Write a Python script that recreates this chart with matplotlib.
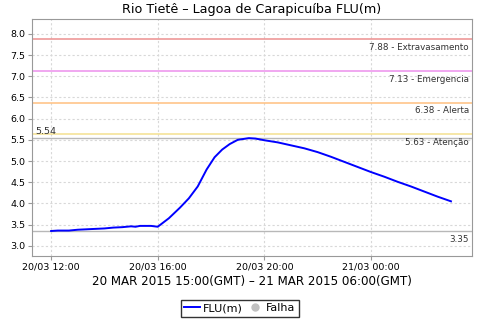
import numpy as np
import pandas as pd
import matplotlib
matplotlib.use('Agg')
import matplotlib.pyplot as plt
import matplotlib.dates as mdates
from matplotlib.lines import Line2D

# readings (local time)
times = ['2015-03-20 12:00', '2015-03-20 12:15', '2015-03-20 12:40', '2015-03-20 13:00',
         '2015-03-20 13:20', '2015-03-20 13:40', '2015-03-20 14:00', '2015-03-20 14:20',
         '2015-03-20 14:40', '2015-03-20 15:00', '2015-03-20 15:10', '2015-03-20 15:20',
         '2015-03-20 15:45', '2015-03-20 16:00', '2015-03-20 16:25', '2015-03-20 16:50',
         '2015-03-20 17:10', '2015-03-20 17:30', '2015-03-20 17:50', '2015-03-20 18:08',
         '2015-03-20 18:25', '2015-03-20 18:42', '2015-03-20 19:00', '2015-03-20 19:25',
         '2015-03-20 19:40', '2015-03-20 20:00', '2015-03-20 20:30', '2015-03-20 21:00',
         '2015-03-20 21:30', '2015-03-20 22:00', '2015-03-20 22:30', '2015-03-20 23:00',
         '2015-03-20 23:30', '2015-03-21 00:00', '2015-03-21 00:30', '2015-03-21 01:00',
         '2015-03-21 01:30', '2015-03-21 02:00', '2015-03-21 02:30', '2015-03-21 03:00']
flu = [3.35, 3.36, 3.36, 3.38, 3.39, 3.40, 3.41, 3.43, 3.44, 3.46, 3.45, 3.47,
       3.47, 3.45, 3.65, 3.90, 4.12, 4.40, 4.80, 5.09, 5.27, 5.40, 5.50, 5.54,
       5.53, 5.49, 5.44, 5.37, 5.30, 5.21, 5.10, 4.98, 4.86, 4.74, 4.63, 4.51,
       4.40, 4.28, 4.16, 4.05]

limit_values = [7.88, 7.13, 6.38, 5.63]
limit_names = ['Extravasamento', 'Emergencia', 'Alerta', 'Atenção']
limit_colors = ['#ec9090', '#ec90ec', '#ffc080', '#f4e090']

max_val = 5.54
min_val = 3.35

t = pd.to_datetime(times)

fig = plt.figure(figsize=(4.8, 3.2), dpi=100)
ax = fig.add_axes([0.0667, 0.2, 0.9163, 0.7406])

for v, c in zip(limit_values, limit_colors):
    ax.axhline(v, color=c, lw=1.1, zorder=2)
for v in [max_val, min_val]:
    ax.axhline(v, color='#b8b8b8', lw=1.0, zorder=2)

ax.plot(t, flu, color='#0000ff', lw=1.4, zorder=3)

for v, name in zip(limit_values, limit_names):
    ax.text(0.993, v - 0.09, '{:.2f} - {}'.format(v, name), transform=ax.get_yaxis_transform(),
            ha='right', va='top', fontsize=6.3, color='#333333')
ax.text(0.008, max_val + 0.06, '{:.2f}'.format(max_val), transform=ax.get_yaxis_transform(),
        ha='left', va='bottom', fontsize=6.8, color='#333333')
ax.text(0.993, min_val - 0.09, '{:.2f}'.format(min_val), transform=ax.get_yaxis_transform(),
        ha='right', va='top', fontsize=6.3, color='#333333')

ax.set_ylim(2.76, 8.35)
ax.set_yticks(np.arange(3.0, 8.01, 0.5))
ax.yaxis.set_major_formatter(plt.FormatStrFormatter('%.1f'))
ax.set_xlim(pd.Timestamp('2015-03-20 11:17'), pd.Timestamp('2015-03-21 03:47'))
ax.set_xticks(pd.to_datetime(['2015-03-20 12:00', '2015-03-20 16:00',
                              '2015-03-20 20:00', '2015-03-21 00:00']))
ax.xaxis.set_major_formatter(mdates.DateFormatter('%d/%m %H:%M'))
ax.tick_params(labelsize=6.8, length=3, color='#999999', pad=2)
ax.grid(True, color='#d8d8d8', ls=(0, (2, 2)), lw=0.8)
for s in ax.spines.values():
    s.set_color('#999999')

ax.set_title('Rio Tietê – Lagoa de Carapicuíba FLU(m)', fontsize=9.2, pad=4)
ax.set_xlabel('20 MAR 2015 15:00(GMT) – 21 MAR 2015 06:00(GMT)', fontsize=8.6, labelpad=2)

handles = [Line2D([], [], color='#0000ff', lw=1.4),
           Line2D([], [], color='#c0c0c0', marker='o', ls='none', markersize=5)]
leg = fig.legend(handles, ['FLU(m)', 'Falha'], loc='lower center', bbox_to_anchor=(0.5, 0.0),
                 ncol=2, fontsize=8, frameon=True, fancybox=False, handlelength=1.4,
                 handletextpad=0.3, columnspacing=0.4, borderpad=0.3, borderaxespad=0.3)
leg.get_frame().set_edgecolor('black')
leg.get_frame().set_linewidth(1.0)

fig.savefig('out.png', dpi=100)
